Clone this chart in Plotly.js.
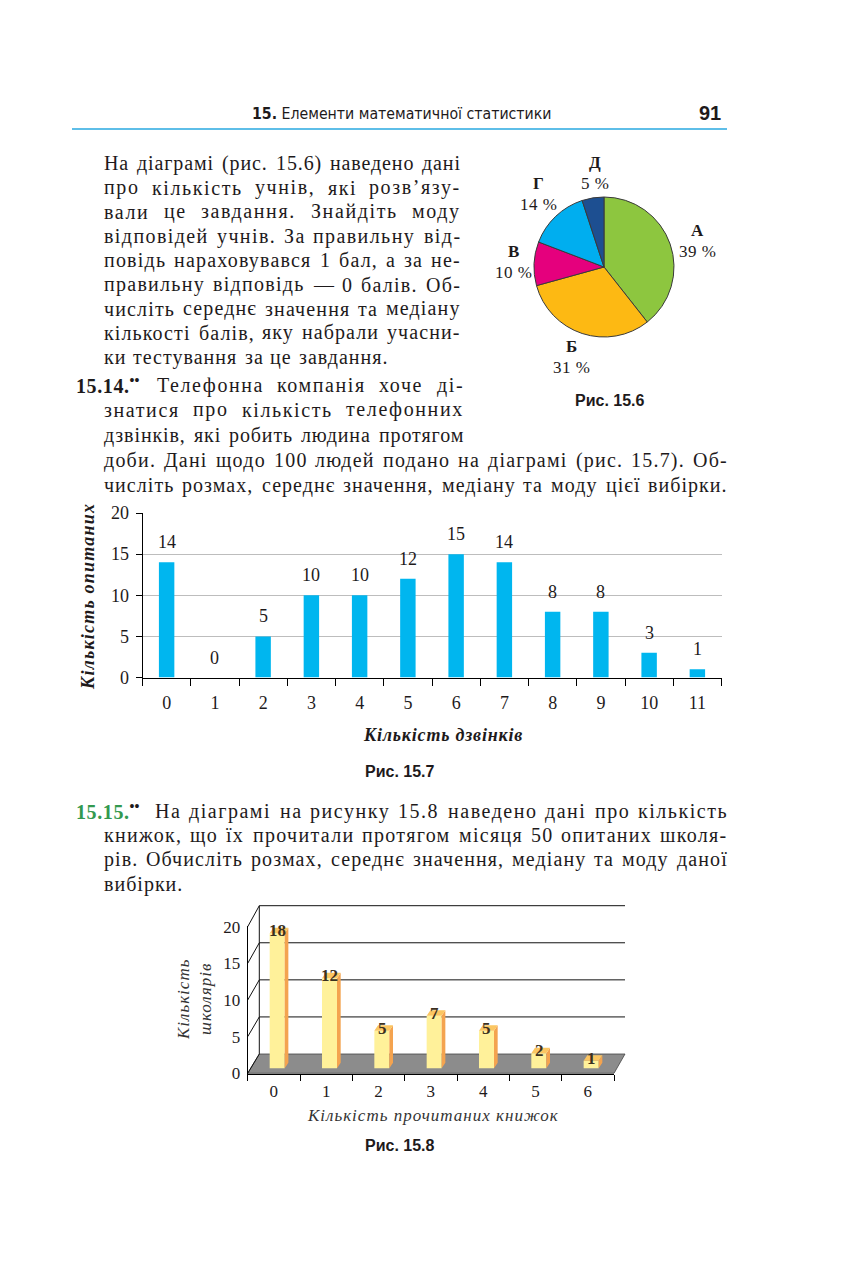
<!DOCTYPE html>
<html><head><meta charset="utf-8">
<script src="https://cdn.plot.ly/plotly-3.0.1.min.js"></script>
<style>html,body{margin:0;padding:0;background:#fff}#chart{width:850px;height:1275px}</style>
</head><body><div id="chart"></div>
<script>
// ---------- DATA ----------
const pieLabels = ['А', 'Б', 'В', 'Г', 'Д'];
const piePercents = [39, 31, 10, 14, 5];
const pieColors = ['#8dc63f', '#fdb913', '#e5007d', '#00aeef', '#1d4f91'];

const callCategories = ['0','1','2','3','4','5','6','7','8','9','10','11'];
const callCounts = [14, 0, 5, 10, 10, 12, 15, 14, 8, 8, 3, 1];
const callTicks = [0, 5, 10, 15, 20];

const bookCategories = [0, 1, 2, 3, 4, 5, 6];
const bookCounts = [18, 12, 5, 7, 5, 2, 1];
const bookTicks = [0, 5, 10, 15, 20];

// ---------- HELPERS ----------
const W = 850, H = 1275;
const px = x => x / W, py = y => 1 - y / H;
const SERIF = '"Liberation Serif", "DejaVu Serif", serif';
const SANS = '"Liberation Sans", Arial, sans-serif';
const NARROW = '"Liberation Sans Narrow", "DejaVu Sans Condensed", "Liberation Sans", sans-serif';
const INK = '#1e1a1b';
const BODY = 20;

const cv = document.createElement('canvas');
const ctx = cv.getContext('2d');
function measure(s, size, weight, family) {
  ctx.font = `normal ${weight || 'normal'} ${size}px ${family || SERIF}`;
  return ctx.measureText(s).width;
}
const sp = (t, ls) => `<span style="letter-spacing:${ls.toFixed(2)}px">${t}</span>`;

const ann = [];
function note(x, y, text, o) {
  ann.push(Object.assign({xref: 'paper', yref: 'paper', x: px(x), y: py(y), text: text,
    showarrow: false, xanchor: 'left', yanchor: 'middle', borderpad: 0,
    font: {family: SERIF, size: BODY, color: INK}}, o || {}));
}
function textLine(str, x0, x1, y, justify) {
  const ws = str.split(' ');
  const chars = str.replace(/ /g, '').length;
  const raw = ws.map(w => measure(w, BODY));
  const sumRaw = raw.reduce((a, b) => a + b, 0);
  let ls = 1.0;
  if (justify) {
    const wantGap = 8;
    ls = (x1 - x0 - sumRaw - wantGap * (ws.length - 1)) / chars;
    ls = Math.max(0, Math.min(ls, 1.6));
  }
  const widths = ws.map((w, i) => raw[i] + ls * w.length);
  const sum = widths.reduce((a, b) => a + b, 0);
  const gap = justify ? (x1 - x0 - sum) / (ws.length - 1) : measure(' ', BODY) + ls + 1;
  let x = x0;
  ws.forEach((w, i) => { note(x, y, sp(w, ls)); x += widths[i] + gap; });
}

// ---------- HEADER ----------
const headStr = '15. Елементи математичної статистики';
const headSize = Math.min(19, 16 * 297 / measure(headStr, 16, 'normal', NARROW));
note(251, 114, '<b>15.</b> Елементи математичної статистики', {font: {family: NARROW, size: headSize, color: INK}});
note(722, 113, '<b>91</b>', {xanchor: 'right', font: {family: SANS, size: 20, color: INK}});

// ---------- PARAGRAPH 1 ----------
const para1 = [
  'На діаграмі (рис. 15.6) наведено дані',
  'про кількість учнів, які розв’язу-',
  'вали це завдання. Знайдіть моду',
  'відповідей учнів. За правильну від-',
  'повідь нараховувався 1 бал, а за не-',
  'правильну відповідь — 0 балів. Об-',
  'числіть середнє значення та медіану',
  'кількості балів, яку набрали учасни-',
  'ки тестування за це завдання.'
];
para1.forEach((s, i) => textLine(s, 103, 460, 163.5 + i * 24.2, i < para1.length - 1));

// ---------- 15.14 ----------
note(75, 385, sp('<b>15.14.</b>', 0.6) + '<sup><b>••</b></sup>', {font: {family: SERIF, size: 20, color: INK}});
textLine('Телефонна компанія хоче ді-', 156, 463, 385, true);
textLine('знатися про кількість телефонних', 103, 463, 410, true);
textLine('дзвінків, які робить людина протягом', 103, 463, 435, true);
textLine('доби. Дані щодо 100 людей подано на діаграмі (рис. 15.7). Об-', 103, 727, 460, true);
textLine('числіть розмах, середнє значення, медіану та моду цієї вибірки.', 103, 727, 485, true);

// ---------- 15.15 ----------
note(75, 811, sp('<b><span style="color:#33994f">15.15.</span></b>', 0.6) + '<sup><b>••</b></sup>', {font: {family: SERIF, size: 20, color: INK}});
textLine('На діаграмі на рисунку 15.8 наведено дані про кількість', 154, 727, 811, true);
textLine('книжок, що їх прочитали протягом місяця 50 опитаних школя-', 103, 727, 835, true);
textLine('рів. Обчисліть розмах, середнє значення, медіану та моду даної', 103, 727, 859, true);
textLine('вибірки.', 103, 727, 884, false);

// ---------- CAPTIONS ----------
note(610, 400, '<b>Рис. 15.6</b>', {xanchor: 'center', font: {family: SANS, size: 16, color: INK}});
note(400, 771, '<b>Рис. 15.7</b>', {xanchor: 'center', font: {family: SANS, size: 16, color: INK}});
note(400, 1145, '<b>Рис. 15.8</b>', {xanchor: 'center', font: {family: SANS, size: 16, color: INK}});

// ---------- PIE LABELS ----------
const pieLabelPos = [[697, 230], [571, 346], [513, 251], [538, 183], [595, 163]];
pieLabels.forEach((l, i) => {
  const [x, y] = pieLabelPos[i];
  note(x, y, '<b>' + l + '</b>', {xanchor: 'center', font: {family: SERIF, size: 17, color: INK}});
  note(x, y + 21, sp(piePercents[i] + ' %', 0.5), {xanchor: 'center', font: {family: SERIF, size: 17, color: INK}});
});

// ---------- FIG 15.7 LABELS ----------
note(88, 597, sp('<b><i>Кількість опитаних</i></b>', 1.2), {xanchor: 'center', textangle: -90, font: {family: SERIF, size: 18, color: INK}});
note(443, 735, sp('<b><i>Кількість дзвінків</i></b>', 0.8), {xanchor: 'center', font: {family: SERIF, size: 18, color: INK}});
callCounts.forEach((v, i) => ann.push({xref: 'x', yref: 'y', x: i, y: v, yshift: 20, text: String(v),
  showarrow: false, font: {family: SERIF, size: 18, color: INK}}));

// ---------- FIG 15.8 ----------
note(194, 1000, sp('<i>Кількість<br>школярів</i>', 1), {xanchor: 'center', textangle: -90, font: {family: SERIF, size: 17, color: '#333'}});
note(433, 1115, sp('<i>Кількість прочитаних книжок</i>', 1), {xanchor: 'center', font: {family: SERIF, size: 17, color: '#333'}});

const FX0 = 247.7, FX1 = 614, FY0 = 1073.3, FY20 = 926.7;
const BX0 = 259.3, BX1 = 625, BY0 = 1054, BY20 = 905.7;
const yFront = v => FY0 - v * (FY0 - FY20) / 20;
const yBack = v => BY0 - v * (BY0 - BY20) / 20;
// bars scale: value 0 sits at 1068.3 px, 7.5 px per unit
const BAR0 = 1068.3, BARS = 7.5;
const AX_BOT = 1074.3, AX_TOP = 925.7;
const toBarUnits = ypx => (BAR0 - ypx) / BARS;

const shapes = [];
shapes.push({type: 'line', xref: 'paper', yref: 'paper', x0: px(72), x1: px(727), y0: py(129), y1: py(129),
  line: {color: '#29a9e0', width: 1.5}});
// floor
shapes.push({type: 'path', xref: 'paper', yref: 'paper', layer: 'below',
  path: `M${px(FX0)},${py(FY0)} L${px(FX1)},${py(FY0)} L${px(BX1)},${py(BY0)} L${px(BX0)},${py(BY0)} Z`,
  fillcolor: '#8c8c8c', line: {color: '#444', width: 0.8}});
// back wall gridlines & connectors
bookTicks.forEach(v => {
  if (v > 0) shapes.push({type: 'line', xref: 'paper', yref: 'paper', layer: 'below',
    x0: px(BX0), x1: px(BX1), y0: py(yBack(v)), y1: py(yBack(v)), line: {color: '#111', width: 1}});
  shapes.push({type: 'line', xref: 'paper', yref: 'paper', layer: 'below',
    x0: px(FX0), x1: px(BX0), y0: py(yFront(v)), y1: py(yBack(v)), line: {color: '#111', width: 1}});
});
shapes.push({type: 'line', xref: 'paper', yref: 'paper', layer: 'below',
  x0: px(BX0), x1: px(BX0), y0: py(BY0), y1: py(BY20), line: {color: '#111', width: 1}});

// 3D bar pieces (data units on x3 / y3)
const OFF = -0.08, BW = 0.287, DX = 0.07, DY = 0.75;
const sideX = [], sideY = [], topX = [], topY = [];
bookCategories.forEach((c, i) => {
  const v = bookCounts[i], xl = c + OFF, xr = c + OFF + BW;
  sideX.push(xr, xr + DX, xr + DX, xr, xr, null);
  sideY.push(0, DY, v + DY, v, 0, null);
  topX.push(xl, xr, xr + DX, xl + DX, xl, null);
  topY.push(v, v, v + DY, v + DY, v, null);
  ann.push({xref: 'x3', yref: 'y3', x: c + 0.07, y: v + 0.35, text: '<b>' + v + '</b>', showarrow: false,
    font: {family: SERIF, size: 17, color: '#3b3020'}});
});

const data = [
  {type: 'pie', labels: pieLabels, values: piePercents, sort: false, direction: 'clockwise', rotation: 0,
   marker: {colors: pieColors, line: {color: '#3a3a3a', width: 1}}, textinfo: 'none', hoverinfo: 'none',
   domain: {x: [px(534), px(674)], y: [py(337), py(197)]}, showlegend: false},
  {type: 'bar', x: callCategories, y: callCounts, xaxis: 'x', yaxis: 'y', width: 0.32,
   marker: {color: '#00b6ef', line: {width: 0}}, hoverinfo: 'none'},
  {type: 'bar', x: bookCategories, y: bookCounts, xaxis: 'x3', yaxis: 'y3', offset: OFF, width: BW,
   marker: {color: '#fff19a', line: {width: 0}}, hoverinfo: 'none'},
  {type: 'scatter', x: sideX, y: sideY, xaxis: 'x3', yaxis: 'y3', mode: 'lines', fill: 'toself',
   fillcolor: '#f4a34f', line: {width: 0, color: '#f4a34f'}, hoverinfo: 'none'},
  {type: 'scatter', x: topX, y: topY, xaxis: 'x3', yaxis: 'y3', mode: 'lines', fill: 'toself',
   fillcolor: '#fbc662', line: {width: 0, color: '#fbc662'}, hoverinfo: 'none'}
];

const tickFont = {family: SERIF, size: 18, color: INK};
const layout = {
  width: W, height: H, margin: {l: 0, r: 0, t: 0, b: 0}, showlegend: false,
  paper_bgcolor: '#ffffff', plot_bgcolor: 'rgba(0,0,0,0)',
  xaxis: {domain: [px(142.5), px(721.5)], type: 'category', range: [-0.5, 11.5], tickson: 'boundaries',
    ticks: 'outside', ticklen: 7, tickcolor: '#000', showline: true, linecolor: '#000', linewidth: 1,
    showgrid: false, zeroline: false, tickfont: tickFont, ticklabelstandoff: 9, anchor: 'y', fixedrange: true},
  yaxis: {domain: [py(677.5), py(513)], range: [0, 20], tickmode: 'array', tickvals: callTicks,
    ticks: 'outside', ticklen: 6, tickcolor: '#000', showline: true, linecolor: '#000', linewidth: 1,
    showgrid: true, gridcolor: '#bdbdbd', gridwidth: 1, zeroline: false, tickfont: tickFont,
    ticklabelstandoff: 3, anchor: 'x', fixedrange: true},
  xaxis3: {domain: [px(FX0), px(FX1)], range: [-0.5, 6.5], tickmode: 'array', tickvals: bookCategories,
    ticks: '', showline: true, linecolor: '#000', linewidth: 1, showgrid: false, zeroline: false,
    minor: {tickmode: 'linear', tick0: 0.5, dtick: 1, ticks: 'outside', ticklen: 6, tickcolor: '#000', showgrid: false},
    tickfont: {family: SERIF, size: 17, color: INK}, ticklabelstandoff: 1, anchor: 'y3', fixedrange: true},
  yaxis3: {domain: [py(AX_BOT), py(AX_TOP)], range: [toBarUnits(AX_BOT), toBarUnits(AX_TOP)],
    tickmode: 'array', tickvals: bookTicks.map(v => toBarUnits(yFront(v))), ticktext: bookTicks.map(String),
    ticks: '', showline: true, linecolor: '#000', linewidth: 1, showgrid: false, zeroline: false,
    tickfont: {family: SERIF, size: 17, color: INK}, ticklabelstandoff: 3, anchor: 'x3', fixedrange: true},
  annotations: ann,
  shapes: shapes
};

Plotly.newPlot('chart', data, layout, {staticPlot: true, displayModeBar: false});
</script>
</body></html>
